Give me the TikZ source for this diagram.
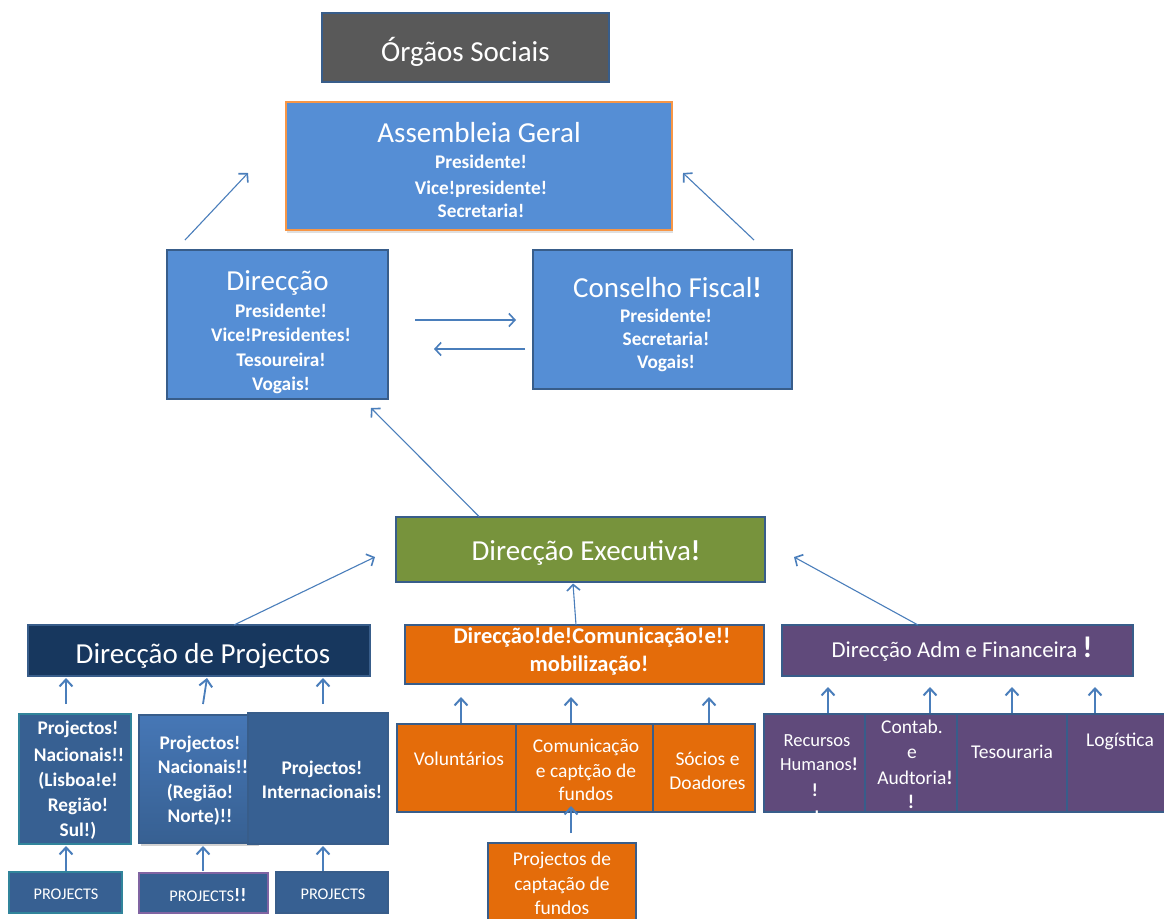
\documentclass[tikz,border=0pt]{standalone}
\usepackage{fontspec}
\setmainfont{Carlito}
\usetikzlibrary{arrows.meta,shadows}
\definecolor{bord}{HTML}{385D8A}
\definecolor{arrc}{HTML}{4A7EBB}
\definecolor{grayf}{HTML}{595959}
\definecolor{bluef}{HTML}{558ED5}
\definecolor{orgb}{HTML}{F79646}
\definecolor{greenf}{HTML}{77933C}
\definecolor{navyf}{HTML}{17375E}
\definecolor{orangef}{HTML}{E46C0A}
\definecolor{purplef}{HTML}{604A7B}
\definecolor{projf}{HTML}{376092}
\definecolor{projl}{HTML}{4677B6}
\definecolor{tealb}{HTML}{31849B}
\definecolor{purpb}{HTML}{8064A2}
\begin{document}
\begin{tikzpicture}[x=1pt,y=-1pt,
  bx/.style={draw=bord, line width=2.2pt, inner sep=0pt, outer sep=0pt},
  tx/.style={text=white, anchor=base, inner sep=0pt, align=center},
  fsT/.style={font=\fontsize{29}{34}\selectfont},
  fsB/.style={font=\bfseries\fontsize{19.3}{23}\selectfont},
  fsS/.style={font=\fontsize{19.5}{23}\selectfont},
  fsR/.style={font=\fontsize{18.5}{22}\selectfont},
  fsA/.style={font=\fontsize{19.5}{23}\selectfont},
  fsP/.style={font=\fontsize{16.3}{19}\selectfont},
  arr/.style={draw=arrc, line width=1.1pt, -{Straight Barb[length=6pt,width=13pt,line width=1.6pt]}},
  arrt/.style={draw=arrc, line width=1.8pt, -{Straight Barb[length=7pt,width=13pt,line width=2pt]}}
]
\useasboundingbox (0,0) rectangle (1164,918);
\clip (0,0) rectangle (1164,918);
\fill[white] (0,0) rectangle (1164,918);

% ---------- boxes ----------
\node[bx, fill=grayf, minimum width=287pt, minimum height=69pt] (os) at (465.5,47.5) {};
\node[draw=orgb, line width=1.4pt, fill=bluef, minimum width=386pt, minimum height=128pt, inner sep=0pt,
      drop shadow={shadow xshift=1pt, shadow yshift=-3pt, opacity=.25}] (ag) at (479,166) {};
\node[bx, fill=bluef, minimum width=221pt, minimum height=149pt] (dir) at (277.5,324.5) {};
\node[bx, fill=bluef, minimum width=259pt, minimum height=139pt] (cf) at (662.5,319.5) {};
\node[bx, fill=greenf, minimum width=369pt, minimum height=65pt] (de) at (580.5,549.5) {};
\node[bx, fill=navyf, minimum width=342pt, minimum height=51pt] (dp) at (199,650.5) {};
\node[bx, fill=orangef, minimum width=359pt, minimum height=59pt] (dcm) at (584.5,654.5) {};
\node[bx, fill=purplef, minimum width=351pt, minimum height=51pt] (daf) at (957.5,650.5) {};

\node[bx, draw=tealb, fill=projf, minimum width=112pt, minimum height=130pt] (p1) at (75,779) {};
\node[bx, top color=projl, bottom color=projf, minimum width=118pt, minimum height=128pt,
      drop shadow={shadow xshift=2pt, shadow yshift=-3pt, opacity=.35}] (p2) at (198,779) {};
\node[bx, fill=projf, minimum width=140pt, minimum height=131pt] (p3) at (318,778.5) {};
\node[bx, draw=tealb, fill=projf, minimum width=113pt, minimum height=41pt] (b1) at (65.5,892.5) {};
\node[bx, draw=purpb, line width=1.4pt, fill=projf, minimum width=129pt, minimum height=40pt] (b2) at (203.5,893) {};
\node[bx, fill=projf, minimum width=112pt, minimum height=41pt] (b3) at (332,892.5) {};

\node[bx, line width=2.8pt, fill=orangef, minimum width=119pt, minimum height=88pt] (vol) at (456.5,768) {};
\node[bx, line width=2.8pt, fill=orangef, minimum width=137pt, minimum height=88pt] (com) at (584.5,768) {};
\node[bx, line width=2.8pt, fill=orangef, minimum width=102pt, minimum height=88pt] (soc) at (704,768) {};
\node[bx, line width=2.8pt, fill=orangef, minimum width=148pt, minimum height=92pt] (pc) at (562,889) {};

\node[bx, line width=2.8pt, fill=purplef, minimum width=101pt, minimum height=98pt] (rh) at (814.5,763) {};
\node[bx, line width=2.8pt, fill=purplef, minimum width=92pt, minimum height=98pt] (ca) at (911,763) {};
\node[bx, line width=2.8pt, fill=purplef, minimum width=110pt, minimum height=98pt] (tes) at (1012,763) {};
\node[bx, line width=2.8pt, fill=purplef, minimum width=108pt, minimum height=98pt] (log) at (1121,763) {};

% ---------- texts ----------
\node[tx, fsT] (osT) at (465.5,61) {Órgãos Sociais};

\node[tx, fsT] (agT) at (479,142) {Assembleia Geral};
\node[tx, fsB] (ag1) at (481,168) {Presidente!};
\node[tx, fsB] (ag2) at (481,194) {Vice!presidente!};
\node[tx, fsB] (ag3) at (481,217) {Secretaria!};

\node[tx, fsT] (dirT) at (277.5,290) {Direcção};
\node[tx, fsB] (dir1) at (281,317) {Presidente!};
\node[tx, fsB] (dir2) at (281,341) {Vice!Presidentes!};
\node[tx, fsB] (dir3) at (281,366) {Tesoureira!};
\node[tx, fsB] (dir4) at (281,390) {Vogais!};

\node[tx, fsT] (cfT) at (667.5,297) {Conselho Fiscal\textbf{!}};
\node[tx, fsB] (cf1) at (666,322) {Presidente!};
\node[tx, fsB] (cf2) at (666,345) {Secretaria!};
\node[tx, fsB] (cf3) at (666,368) {Vogais!};

\node[tx, fsT] (deT) at (586,560) {Direcção Executiva\textbf{!}};
\node[tx, fsT] (dpT) at (203,663) {Direcção de Projectos};
\node[tx, font=\bfseries\fontsize{22.5}{26}\selectfont] (dcm1) at (592,643) {Direcção!de!Comunicação!e!!};
\node[tx, font=\bfseries\fontsize{22.5}{26}\selectfont] (dcm2) at (589,671) {mobilização!};
\node[tx, font=\fontsize{22.8}{26}\selectfont] (dafT) at (962,657) {Direcção Adm e Financeira {\fontsize{30}{34}\selectfont\textbf{!}}};

\node[tx, fsB] (p1a) at (78,734) {Projectos!};
\node[tx, fsB] (p1b) at (79,761) {Nacionais!!};
\node[tx, fsB] (p1c) at (78,786) {(Lisboa!e!};
\node[tx, fsB] (p1d) at (78,811) {Região!};
\node[tx, fsB] (p1e) at (78,836) {Sul!)};

\node[tx, fsB] (p2a) at (200,749) {Projectos!};
\node[tx, fsB] (p2b) at (203,773) {Nacionais!!};
\node[tx, fsB] (p2c) at (200,798) {(Região!};
\node[tx, fsB] (p2d) at (200,822) {Norte)!!};

\node[tx, fsB] (p3a) at (322,774) {Projectos!};
\node[tx, fsB] (p3b) at (322,798) {Internacionais!};

\node[tx, fsP] (b1T) at (66,899) {PROJECTS};
\node[tx, fsP] (b2T) at (208,901) {PROJECTS{\bfseries\fontsize{19}{20}\selectfont !!}};
\node[tx, fsP] (b3T) at (333,899) {PROJECTS};

\node[tx, fsS] (volT) at (459,765) {Voluntários};
\node[tx, fsS] (com1) at (586,752) {Comunicação};
\node[tx, fsS] (com2) at (586,777) {e captção de};
\node[tx, fsS] (com3) at (586,800) {fundos};
\node[tx, fsS] (soc1) at (707.5,765) {Sócios e};
\node[tx, fsS] (soc2) at (707.5,789) {Doadores};
\node[tx, fsS] (pc1) at (562,865) {Projectos de};
\node[tx, fsS] (pc2) at (562,890) {captação de};
\node[tx, fsS] (pc3) at (562,914) {fundos};

\node[tx, fsR] (rh1) at (817,746) {Recursos};
\node[tx, fsR] (rh2) at (819,770) {Humanos\textbf{!}};
\node[tx, fsR] (rh3) at (815,796) {\textbf{!}};
\begin{scope}
  \clip (rh.north west) rectangle ([yshift=-1.5pt]rh.south east);
  \node[tx, fsR] (rh4) at (817,823) {\textbf{!}};
\end{scope}
\node[tx, fsA] (ca1) at (912,733) {Contab.};
\node[tx, fsA] (ca2) at (912,758) {e};
\node[tx, fsA] (ca3) at (915,784) {Audtoria\textbf{!}};
\node[tx, fsA] (ca4) at (911,808) {\textbf{!}};
\node[tx, fsA] (tesT) at (1012,758) {Tesouraria};
\node[tx, fsA] (logT) at (1120,746) {Logística};

% ---------- connectors ----------
\coordinate (a1s) at (185,240); \coordinate (a1e) at (248,173);
\coordinate (a2s) at (754,240); \coordinate (a2e) at (683,173);
\coordinate (a3s) at (415,320); \coordinate (a3e) at (516,320);
\coordinate (a4s) at (525,349); \coordinate (a4e) at (434,349);
\coordinate (a5e) at (371,408);
\coordinate (a6e) at (375,557);
\coordinate (a8e) at (794,557);
\draw[arr] (a1s) -- (a1e);
\draw[arr] (a2s) -- (a2e);
\draw[arr] (a3s) -- (a3e);
\draw[arr] (a4s) -- (a4e);
\draw[arr] (479,516.5) coordinate (a5s) -- (a5e);
\draw[arr] (234,625) coordinate (a6s) -- (a6e);
\draw[arr] (576,625) coordinate (a7s) -- (573,583.5) coordinate (a7e);
\draw[arr] (918,625) coordinate (a8s) -- (a8e);

\foreach \n/\x/\xe in {q1/66/66, q2/203/207, q3/323/323}{
  \coordinate (\n s) at (\x,704); \coordinate (\n e) at (\xe,678);
  \draw[arrt] (\n s) -- (\n e);
}
\foreach \n/\x in {r1/66, r2/203, r3/323}{
  \coordinate (\n s) at (\x,871); \coordinate (\n e) at (\x,846);
  \draw[arrt] (\n s) -- (\n e);
}
\foreach \n/\x in {s1/461, s2/571, s3/709}{
  \coordinate (\n s) at (\x,722.5); \coordinate (\n e) at (\x,697);
  \draw[arrt] (\n s) -- (\n e);
}
\coordinate (pcs) at (571,833); \coordinate (pce) at (571,806);
\draw[arrt] (pcs) -- (pce);
\foreach \n/\x in {t1/828, t2/930, t3/1012, t4/1095}{
  \coordinate (\n s) at (\x,712.5); \coordinate (\n e) at (\x,687);
  \draw[arrt] (\n s) -- (\n e);
}
\end{tikzpicture}
\end{document}
